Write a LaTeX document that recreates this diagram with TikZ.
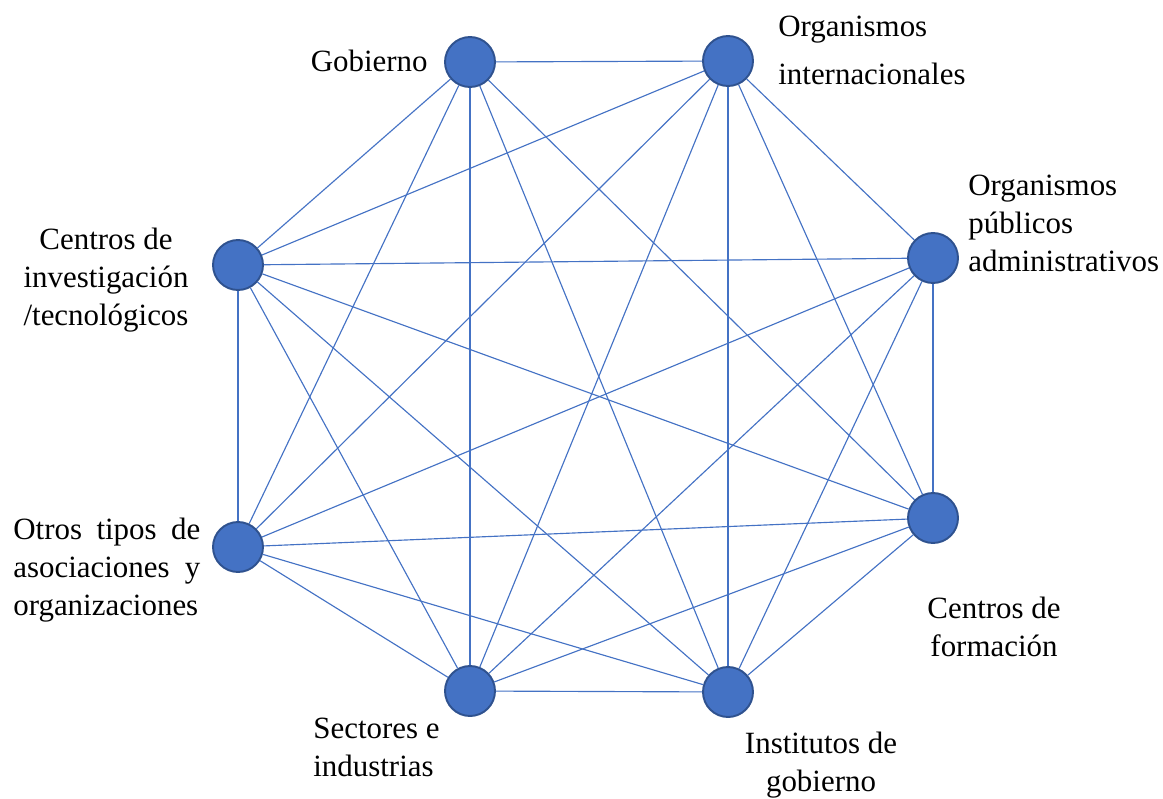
\documentclass[tikz,border=0pt]{standalone}
\usepackage{fontspec}
\setmainfont{Liberation Serif}
\definecolor{nodoazul}{HTML}{4472C4}
\definecolor{bordeazul}{HTML}{2F528F}
\tikzset{
    actor/.style={circle,fill=nodoazul,draw=bordeazul,line width=1.1pt,minimum size=1.0cm,inner sep=0pt},
    link/.style={nodoazul,line width=0.65pt},
    lbl/.style={inner sep=0pt,font=\fontsize{17.6}{21.5}\selectfont}
}
\begin{document}
\begin{tikzpicture}[x=0.02cm,y=-0.02cm]
    \useasboundingbox (0,0) rectangle (1163,798);
    \node[actor] (gob) at (470,62) {};
    \node[actor] (oint) at (728,61) {};
    \node[actor] (opub) at (933,258) {};
    \node[actor] (cform) at (933,518) {};
    \node[actor] (inst) at (728,692) {};
    \node[actor] (sect) at (470,691) {};
    \node[actor] (otros) at (238,547) {};
    \node[actor] (cinv) at (238,265) {};
    \foreach \a/\b in {gob/oint,gob/cinv,gob/otros,gob/sect,gob/inst,gob/cform,
        oint/opub,oint/cform,oint/inst,oint/sect,oint/otros,oint/cinv,
        opub/cform,opub/inst,opub/sect,opub/otros,opub/cinv,
        cform/inst,cform/sect,cform/otros,cform/cinv,
        inst/sect,inst/otros,inst/cinv,
        sect/otros,sect/cinv,otros/cinv} {
        \draw[link] (\a) -- (\b);
    }
    % las etiquetas: el ancla base cae en la ultima linea
    \node[lbl,anchor=base east] (tgob) at (428,71) {Gobierno};
    \node[lbl,anchor=base west,align=left,font=\fontsize{17.6}{27.2}\selectfont] (toint) at (778,84) {Organismos\\internacionales};
    \node[lbl,anchor=base west,align=left] (topub) at (968,271) {Organismos\\públicos\\administrativos};
    \node[lbl,anchor=base,align=center] (tcinv) at (106,325) {Centros de\\investigación\\/tecnológicos};
    \node[lbl,anchor=base west,align=left] (totros) at (13,615) {\makebox[3.74cm][s]{Otros tipos de}\\\makebox[3.74cm][s]{asociaciones y}\\organizaciones};
    \node[lbl,anchor=base,align=center] (tcform) at (994,656) {Centros de\\formación};
    \node[lbl,anchor=base west,align=left] (tsect) at (313,776) {Sectores e\\industrias};
    \node[lbl,anchor=base,align=center] (tinst) at (821,791) {Institutos de\\gobierno};
\end{tikzpicture}
\end{document}
